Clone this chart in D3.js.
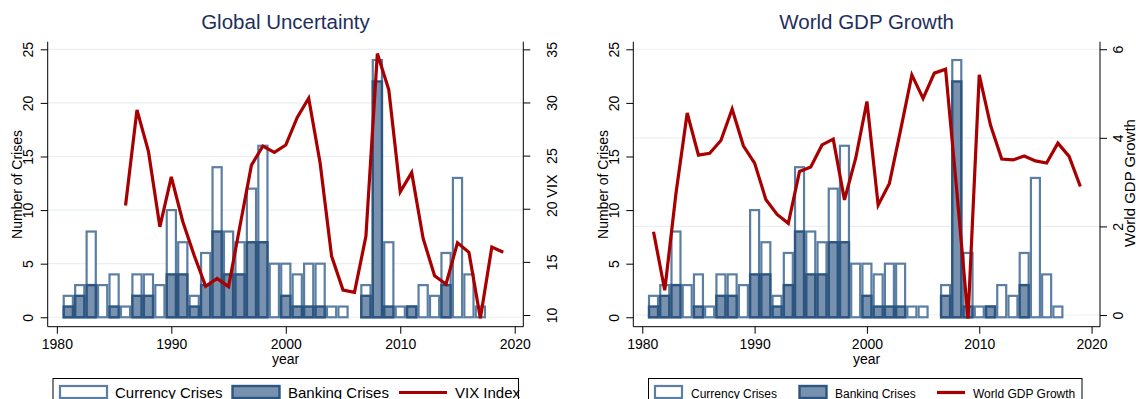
<!DOCTYPE html>
<html>
<head>
<meta charset="utf-8">
<script src="https://cdn.jsdelivr.net/npm/d3@7"></script>
<style>
  html, body { margin: 0; padding: 0; background: #fff; }
  svg { display: block; font-family: "Liberation Sans", Arial, sans-serif; }
</style>
</head>
<body>
<svg id="chart" width="1136" height="399"></svg>
<script>
// ---- data -------------------------------------------------------------
const crisisYears = d3.range(1981, 2018);              // 1981 .. 2017
const currencyCrisesA = [2,3,8,3,4,1,4,4,3,10,7,2,6,14,8,7,12,16,5,5,4,5,5,1,1,0,3,24,7,1,1,3,2,6,13,4,1];
const currencyCrisesB = [2,3,8,3,4,1,4,4,3,10,7,2,6,14,8,7,12,16,5,5,4,5,5,1,1,0,3,24,6,1,1,3,2,6,13,4,1];
const bankingCrises   = [1,2,3,0,1,0,2,2,0,4,4,1,3,8,4,4,7,7,0,2,1,1,1,0,0,0,2,22,1,0,1,0,0,3,0,0,0];

const vixYears = d3.range(1986, 2020);                 // 1986 .. 2019
const vixIndex = [20.3,29.3,25.4,18.3,23.0,18.8,15.6,12.7,13.45,12.67,18.4,24.1,25.9,25.3,26.0,28.6,30.4,24.3,
                  15.55,12.35,12.13,17.4,34.6,31.2,21.6,23.4,17.2,13.7,12.9,16.8,15.9,9.7,16.4,15.9];

const gdpYears = d3.range(1981, 2020);                 // 1981 .. 2019
const worldGdpGrowth = [1.88,0.56,2.75,4.56,3.61,3.65,3.94,4.65,3.82,3.43,2.61,2.27,2.07,3.24,3.34,3.84,3.97,2.6,
                        3.54,4.82,2.48,2.97,4.18,5.42,4.89,5.46,5.55,2.8,-0.08,5.42,4.29,3.52,3.5,3.59,3.48,3.43,3.88,3.58,2.9];

const yearTicks = [1980, 1990, 2000, 2010, 2020];
const crisisTicks = [0, 5, 10, 15, 20, 25];
const vixTicks = [10, 15, 20, 25, 30, 35];
const gdpTicks = [0, 2, 4, 6];

// ---- styles -----------------------------------------------------------
const C = {
  currencyStroke: "#5b7ea3",
  bankingFill: "#7891ae",
  bankingStroke: "#2c5580",
  line: "#a80000",
  grid: "#e9eff2",
  title: "#1e2f5c",
  axis: "#000"
};

const svg = d3.select("#chart");
const plotTop = 41.7, plotBottom = 326.7;

function drawPanel(cfg) {
  const g = svg.append("g");
  const x = d3.scaleLinear().domain([1979.2, 2020.75]).range([cfg.x0, cfg.x1]);
  const yC = d3.scaleLinear().domain([-0.88, 25.71]).range([plotBottom, plotTop]);
  const yR = d3.scaleLinear().domain(cfg.rDomain).range([plotBottom, plotTop]);

  // gridlines
  const gridScale = cfg.gridRight ? yR : yC;
  const gridVals = cfg.gridRight ? cfg.rTicks : crisisTicks;
  g.append("g").selectAll("line").data(gridVals).join("line")
    .attr("x1", cfg.x0).attr("x2", cfg.x1)
    .attr("y1", d => gridScale(d)).attr("y2", d => gridScale(d))
    .attr("stroke", C.grid).attr("stroke-width", 1.2);

  const bw = 0.8 * (x(1) - x(0));

  // currency crises (outlined bars)
  g.append("g").selectAll("rect")
    .data(crisisYears.map((yr, i) => ({ yr, v: cfg.currency[i] })).filter(d => d.v > 0))
    .join("rect")
    .attr("x", d => x(d.yr) - bw / 2).attr("width", bw)
    .attr("y", d => yC(d.v)).attr("height", d => yC(0) - yC(d.v))
    .attr("fill", "#fff").attr("stroke", C.currencyStroke).attr("stroke-width", 2.2);

  // banking crises (filled bars)
  g.append("g").selectAll("rect")
    .data(crisisYears.map((yr, i) => ({ yr, v: bankingCrises[i] })).filter(d => d.v > 0))
    .join("rect")
    .attr("x", d => x(d.yr) - bw / 2).attr("width", bw)
    .attr("y", d => yC(d.v)).attr("height", d => yC(0) - yC(d.v))
    .attr("fill", C.bankingFill).attr("stroke", C.bankingStroke).attr("stroke-width", 2.4);

  // right-axis series
  const line = d3.line().x(d => x(d[0])).y(d => yR(d[1]));
  g.append("path")
    .datum(cfg.lineYears.map((yr, i) => [yr, cfg.lineValues[i]]))
    .attr("d", line).attr("fill", "none")
    .attr("stroke", C.line).attr("stroke-width", 3.2)
    .attr("stroke-linejoin", "miter").attr("stroke-miterlimit", 4);

  // left axis (rotated tick labels)
  const la = g.append("g").attr("transform", `translate(${cfg.x0},0)`)
    .call(d3.axisLeft(yC).tickValues(crisisTicks).tickSize(7).tickFormat(d3.format("d")));
  la.select(".domain").attr("d", `M0,${plotTop}V${plotBottom}`);
  la.selectAll(".tick text").attr("x", null).attr("y", null).attr("dy", null)
    .attr("font-size", 14).attr("fill", "#000")
    .attr("text-anchor", "middle")
    .attr("transform", "translate(-14.3,0) rotate(-90)");

  // right axis (rotated tick labels)
  const ra = g.append("g").attr("transform", `translate(${cfg.x1},0)`)
    .call(d3.axisRight(yR).tickValues(cfg.rTicks).tickSize(7).tickFormat(d3.format("d")));
  ra.select(".domain").attr("d", `M0,${plotTop}V${plotBottom}`);
  ra.selectAll(".tick text").attr("x", null).attr("y", null).attr("dy", null)
    .attr("font-size", 14).attr("fill", "#000")
    .attr("text-anchor", "middle")
    .attr("transform", `translate(${cfg.rLabelX},0) rotate(-90)`);

  // bottom axis
  const ba = g.append("g").attr("transform", `translate(0,${plotBottom})`)
    .call(d3.axisBottom(x).tickValues(yearTicks).tickSize(7).tickFormat(d3.format("d")));
  ba.select(".domain").attr("d", `M${cfg.x0},0H${cfg.x1}`);
  ba.selectAll(".tick text").attr("font-size", 14).attr("fill", "#000")
    .attr("dy", null).attr("y", 22.5);
  g.selectAll(".tick line").attr("stroke", C.axis);
  g.selectAll(".domain").attr("stroke", C.axis);
  g.selectAll(".tick text").attr("font-family", null);

  // axis titles
  g.append("text").text("year")
    .attr("x", (cfg.x0 + cfg.x1) / 2).attr("y", 364).attr("text-anchor", "middle")
    .attr("font-size", 14);
  g.append("text").text("Number of Crises")
    .attr("transform", `translate(${cfg.x0 - 25.7},${184.5}) rotate(-90)`)
    .attr("text-anchor", "middle").attr("font-size", 14);
  g.append("text").text(cfg.rTitle)
    .attr("transform", `translate(${cfg.x1 + cfg.rTitleDx},${cfg.rTitleY}) rotate(-90)`)
    .attr("text-anchor", "middle").attr("font-size", cfg.rTitleSize);

  // chart title
  g.append("text").text(cfg.title)
    .attr("x", (cfg.x0 + cfg.x1) / 2).attr("y", 29).attr("text-anchor", "middle")
    .attr("font-size", 20.5).attr("fill", C.title);

  // legend
  const L = cfg.legend;
  const lg = g.append("g");
  lg.append("rect").attr("x", L.x0).attr("y", 378.5).attr("width", L.x1 - L.x0).attr("height", 40)
    .attr("fill", "#fff").attr("stroke", "#000").attr("stroke-width", 1);
  lg.append("rect").attr("x", L.sw[0]).attr("y", 386).attr("width", L.swW).attr("height", 12)
    .attr("fill", "#fff").attr("stroke", C.currencyStroke).attr("stroke-width", 2.2);
  lg.append("rect").attr("x", L.sw[1]).attr("y", 386).attr("width", L.swW).attr("height", 12)
    .attr("fill", C.bankingFill).attr("stroke", C.bankingStroke).attr("stroke-width", 2.4);
  lg.append("line").attr("x1", L.sw[2]).attr("x2", L.sw[2] + L.swW + 1)
    .attr("y1", 392.5).attr("y2", 392.5).attr("stroke", C.line).attr("stroke-width", 3.2);
  L.labels.forEach((t, i) => {
    lg.append("text").text(t).attr("x", L.tx[i]).attr("y", 397.5)
      .attr("font-size", L.fs);
  });
}

drawPanel({
  x0: 47.7, x1: 523.3,
  title: "Global Uncertainty",
  currency: currencyCrisesA,
  lineYears: vixYears, lineValues: vixIndex,
  rDomain: [8.9, 35.72], rTicks: vixTicks, gridRight: false,
  rLabelX: 33.4, rTitle: "VIX", rTitleDx: 33.4, rTitleY: 186, rTitleSize: 14.5,
  legend: { x0: 53, x1: 518.5, sw: [60, 232.5, 399], swW: 47, fs: 15,
            tx: [115, 288, 455], labels: ["Currency Crises", "Banking Crises", "VIX Index"] }
});

drawPanel({
  x0: 633.3, x1: 1100,
  title: "World GDP Growth",
  currency: currencyCrisesB,
  lineYears: gdpYears, lineValues: worldGdpGrowth,
  rDomain: [-0.264, 6.17], rTicks: gdpTicks, gridRight: true,
  rLabelX: 23, rTitle: "World GDP Growth", rTitleDx: 34.5, rTitleY: 183, rTitleSize: 15,
  legend: { x0: 648.5, x1: 1082, sw: [655, 799.5, 937], swW: 27, fs: 12,
            tx: [691, 835, 973], labels: ["Currency Crises", "Banking Crises", "World GDP Growth"] }
});
</script>
</body>
</html>
